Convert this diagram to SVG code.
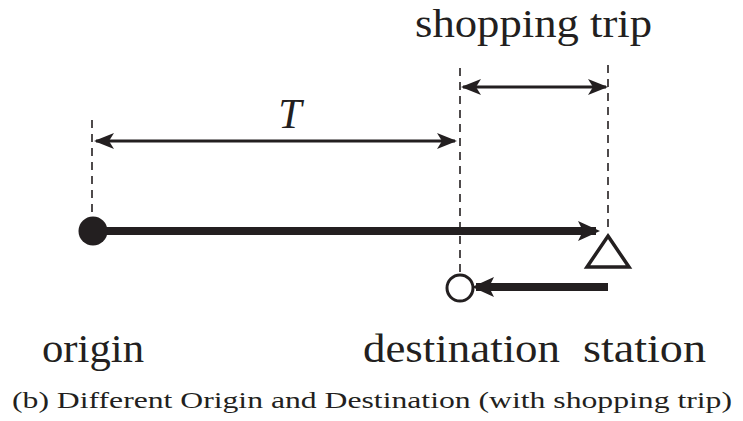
<svg xmlns="http://www.w3.org/2000/svg" width="743" height="421" viewBox="0 0 743 421">
  <style>
    .guide { stroke: #231f20; stroke-width: 1.6; stroke-dasharray: 8 6; fill: none; }
    .dim { stroke: #231f20; stroke-width: 3; fill: none; }
    .trip { stroke: #231f20; stroke-width: 8; fill: none; }
    .lbl { font-family: "Liberation Serif", "Times New Roman", serif; fill: #231f20; }
  </style>
  <defs>
    <marker id="barb" markerUnits="userSpaceOnUse" viewBox="0 0 20 16" refX="18" refY="8" markerWidth="20" markerHeight="16" orient="auto-start-reverse">
      <path d="M0,0 L20,8 L0,16 L5,8 Z" fill="#231f20"/>
    </marker>
    <marker id="bigbarb" markerUnits="userSpaceOnUse" viewBox="0 0 22 20" refX="18" refY="10" markerWidth="22" markerHeight="20" orient="auto">
      <path d="M0,0 L22,10 L0,20 L5,10 Z" fill="#231f20"/>
    </marker>
  </defs>

  <g id="connectors">
    <!-- vertical guides -->
    <line class="guide" x1="92" y1="120" x2="92" y2="218"/>
    <line class="guide" x1="460" y1="68" x2="460" y2="276"/>
    <line class="guide" x1="608" y1="65" x2="608" y2="232"/>
    <!-- duration T -->
    <line class="dim" x1="96" y1="141" x2="455" y2="141" marker-start="url(#barb)" marker-end="url(#barb)"/>
    <!-- shopping trip span -->
    <line class="dim" x1="463" y1="87" x2="606" y2="87" marker-start="url(#barb)" marker-end="url(#barb)"/>
    <!-- outbound trip -->
    <line class="trip" x1="100" y1="231" x2="596" y2="231" marker-end="url(#bigbarb)"/>
    <!-- return trip -->
    <line class="trip" x1="608" y1="287" x2="476" y2="287" marker-end="url(#bigbarb)"/>
  </g>

  <g id="origin">
    <circle cx="93" cy="231" r="14.5" fill="#231f20"/>
    <text class="lbl" x="42" y="362" font-size="40" textLength="102" lengthAdjust="spacingAndGlyphs">origin</text>
  </g>

  <g id="destination">
    <circle cx="460" cy="288" r="13" fill="#fff" stroke="#231f20" stroke-width="3"/>
    <text class="lbl" x="363" y="362" font-size="40" textLength="197" lengthAdjust="spacingAndGlyphs">destination</text>
  </g>

  <g id="station">
    <polygon points="608,236 629,267 587,267" fill="#fff" stroke="#231f20" stroke-width="3.5" stroke-linejoin="miter"/>
    <text class="lbl" x="583" y="362" font-size="40" textLength="123" lengthAdjust="spacingAndGlyphs">station</text>
  </g>

  <g id="labels">
    <text class="lbl" x="290" y="128" font-size="42" font-style="italic" text-anchor="middle">T</text>
    <text class="lbl" x="415" y="37" font-size="39" textLength="237" lengthAdjust="spacingAndGlyphs">shopping trip</text>
    <text class="lbl" x="12" y="408" font-size="24" textLength="720" lengthAdjust="spacingAndGlyphs">(b) Different Origin and Destination (with shopping trip)</text>
  </g>
</svg>
